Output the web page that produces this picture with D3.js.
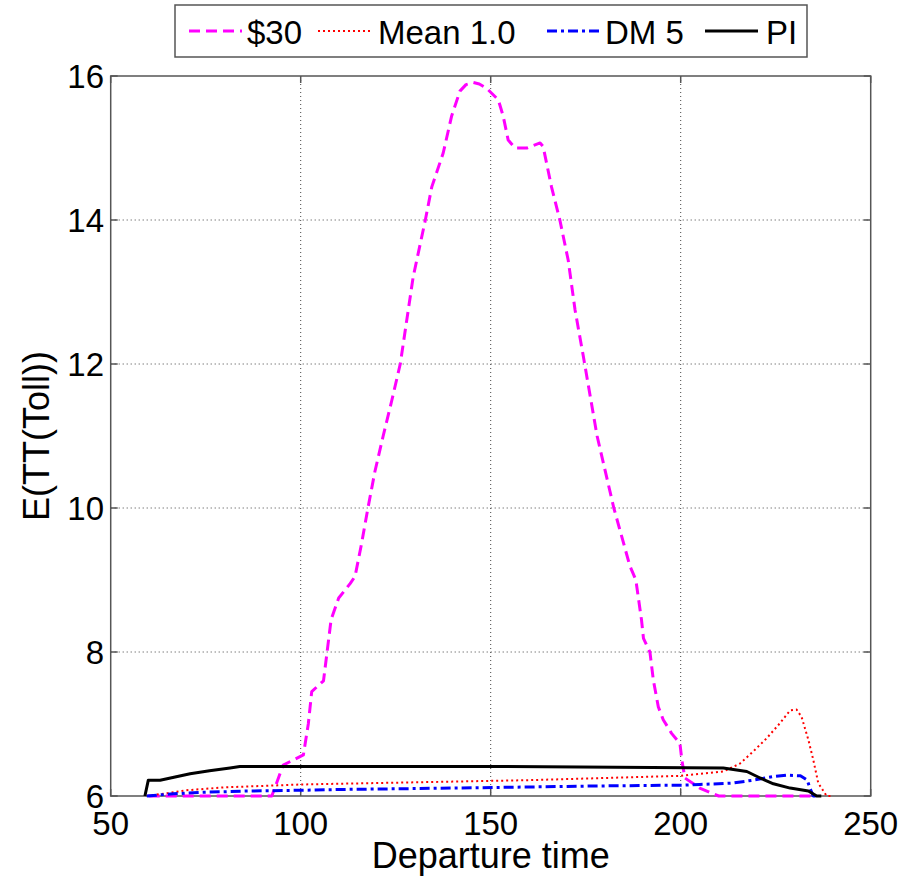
<!DOCTYPE html>
<html lang="en">
<head>
    <meta charset="UTF-8">
    <title>E(TT(Toll)) vs departure time</title>
    <style>
        body { margin: 0; background: #fff; }
        svg { display: block; font-family: "Liberation Sans", Arial, sans-serif; }
        .grid line { stroke: #444; stroke-width: 1; stroke-dasharray: 1,3; }
        .tick-label { font-size: 33px; fill: #000; }
        .axis-title { font-size: 36px; fill: #000; }
    </style>
    <script src="https://d3js.org/d3.v7.min.js"></script>
</head>
<body>
    <svg width="919" height="884"></svg>
    <script>
        // values: [departure time, E(TT(Toll))]
        const toll30 = [
            [60, 6], [92.4, 6], [95.4, 6.43], [100.7, 6.57], [102, 7.0], [102.9, 7.45],
            [106, 7.6], [108, 8.45], [110, 8.75], [113, 8.95], [114.3, 9.05], [116, 9.5],
            [117.7, 10.0], [119.5, 10.5], [121.7, 11.0], [124, 11.5], [126.2, 12.0],
            [129.6, 13.21], [132.8, 14.0], [134.5, 14.46], [137.5, 14.93], [139.7, 15.44],
            [141.9, 15.79], [143.5, 15.88], [145.4, 15.91], [147, 15.89], [148.9, 15.83],
            [152, 15.67], [153.3, 15.44], [154.6, 15.11], [156.4, 15.0], [159.5, 15.0],
            [161.5, 15.04], [163, 15.07], [163.8, 15.02], [166, 14.46], [168.2, 14.0],
            [170.4, 13.44], [172.2, 12.75], [174.4, 12.1], [178, 11.0], [182.4, 10.0],
            [186.6, 9.2], [188.2, 9.0], [189.7, 8.44], [190.2, 8.19], [191.9, 8.0],
            [192.8, 7.61], [194.1, 7.24], [195.4, 7.06], [197.6, 6.87], [199.8, 6.73],
            [200.3, 6.5], [201.1, 6.25], [205, 6.11], [208.6, 6.03], [210, 6.0], [235, 6.0]
        ];
        const mean10 = [
            [59.5, 6.0], [62, 6.02], [65, 6.04], [70, 6.08], [80, 6.12], [90, 6.14],
            [100, 6.16], [120, 6.18], [140, 6.2], [160, 6.22], [180, 6.25], [200, 6.28],
            [211.2, 6.34], [215.6, 6.45], [219.1, 6.62], [222.6, 6.8], [226.1, 7.01],
            [228.8, 7.19], [230.5, 7.2], [231.8, 7.1], [233.6, 6.78], [234.9, 6.5],
            [236.2, 6.18], [238.4, 6.0], [240, 6.0]
        ];
        const dm5 = [
            [59.5, 6.0], [66.5, 6.03], [73.5, 6.05], [86.7, 6.07], [100.7, 6.08],
            [109.5, 6.09], [140, 6.11], [178.8, 6.14], [199.8, 6.15], [205, 6.16],
            [213.8, 6.18], [219.1, 6.22], [224.4, 6.27], [227.8, 6.29], [231.5, 6.28],
            [233.3, 6.22], [234, 6.11], [234.9, 6.0], [236, 6.0]
        ];
        const pi = [
            [59, 6.0], [59.9, 6.22], [63, 6.22], [70.9, 6.31], [76, 6.35], [81.4, 6.39],
            [84, 6.41], [150, 6.41], [211.2, 6.39], [217.4, 6.34], [220.9, 6.25],
            [224.4, 6.17], [228.8, 6.11], [233.6, 6.07], [235.8, 6.0], [237, 6.0]
        ];

        const seriesNames = ["$30", "Mean 1.0", "DM 5", "PI"];
        const seriesData = [toll30, mean10, dm5, pi];
        const seriesColors = ["#ff00ff", "#ff0000", "#0000ff", "#000000"];
        const seriesDash = ["11,6", "2,3", "10,4,3,4", null];
        const seriesWidth = [3, 2, 3, 3];

        const xTicks = [50, 100, 150, 200, 250];
        const yTicks = [6, 8, 10, 12, 14, 16];

        const svg = d3.select("svg");
        const plot = { left: 110.7, right: 870.7, top: 76, bottom: 796 };

        const x = d3.scaleLinear().domain([50, 250]).range([plot.left, plot.right]);
        const y = d3.scaleLinear().domain([6, 16]).range([plot.bottom, plot.top]);

        // grid
        const grid = svg.append("g").attr("class", "grid");
        grid.selectAll("line.v")
            .data(xTicks.slice(1, -1))
            .enter().append("line")
            .attr("x1", d => x(d)).attr("x2", d => x(d))
            .attr("y1", plot.top).attr("y2", plot.bottom);
        grid.selectAll("line.h")
            .data(yTicks.slice(1, -1))
            .enter().append("line")
            .attr("y1", d => y(d)).attr("y2", d => y(d))
            .attr("x1", plot.left).attr("x2", plot.right);

        // tick marks on all four sides
        const ticks = svg.append("g").attr("stroke", "#555").attr("stroke-width", 1.5);
        xTicks.forEach(t => {
            ticks.append("line").attr("x1", x(t)).attr("x2", x(t)).attr("y1", plot.bottom).attr("y2", plot.bottom - 7);
            ticks.append("line").attr("x1", x(t)).attr("x2", x(t)).attr("y1", plot.top).attr("y2", plot.top + 7);
        });
        yTicks.forEach(t => {
            ticks.append("line").attr("y1", y(t)).attr("y2", y(t)).attr("x1", plot.left).attr("x2", plot.left + 7);
            ticks.append("line").attr("y1", y(t)).attr("y2", y(t)).attr("x1", plot.right).attr("x2", plot.right - 7);
        });

        // box
        svg.append("rect")
            .attr("x", plot.left).attr("y", plot.top)
            .attr("width", plot.right - plot.left).attr("height", plot.bottom - plot.top)
            .attr("fill", "none").attr("stroke", "#555").attr("stroke-width", 1.5);

        // lines
        const line = d3.line().x(d => x(d[0])).y(d => y(d[1]));
        seriesData.forEach((data, i) => {
            svg.append("path")
                .datum(data)
                .attr("d", line)
                .attr("fill", "none")
                .attr("stroke", seriesColors[i])
                .attr("stroke-width", seriesWidth[i])
                .attr("stroke-dasharray", seriesDash[i])
                .attr("stroke-linejoin", "round");
        });

        // tick labels
        svg.append("g").selectAll("text")
            .data(xTicks)
            .enter().append("text")
            .attr("class", "tick-label")
            .attr("x", d => x(d))
            .attr("y", 835)
            .attr("text-anchor", "middle")
            .text(d => d);
        svg.append("g").selectAll("text")
            .data(yTicks)
            .enter().append("text")
            .attr("class", "tick-label")
            .attr("x", 104)
            .attr("y", d => y(d) + 12)
            .attr("text-anchor", "end")
            .text(d => d);

        // axis titles
        svg.append("text")
            .attr("class", "axis-title")
            .attr("x", (plot.left + plot.right) / 2)
            .attr("y", 868)
            .attr("text-anchor", "middle")
            .text("Departure time");
        svg.append("text")
            .attr("class", "axis-title")
            .attr("transform", `translate(49,${(plot.top + plot.bottom) / 2}) rotate(-90)`)
            .attr("text-anchor", "middle")
            .text("E(TT(Toll))");

        // legend (sample and label positions match the original layout)
        const legendSampleX = [189, 318, 547, 705];
        const legendTextX = [247, 378, 605, 766];
        const legend = svg.append("g");
        legend.append("rect")
            .attr("x", 175).attr("y", 5)
            .attr("width", 632).attr("height", 52)
            .attr("fill", "#fff").attr("stroke", "#555").attr("stroke-width", 1.5);
        seriesNames.forEach((name, i) => {
            legend.append("line")
                .attr("x1", legendSampleX[i]).attr("x2", legendSampleX[i] + 53)
                .attr("y1", 31).attr("y2", 31)
                .attr("stroke", seriesColors[i])
                .attr("stroke-width", seriesWidth[i])
                .attr("stroke-dasharray", seriesDash[i]);
            legend.append("text")
                .attr("class", "tick-label")
                .attr("x", legendTextX[i])
                .attr("y", 44)
                .text(name);
        });
    </script>
</body>
</html>
